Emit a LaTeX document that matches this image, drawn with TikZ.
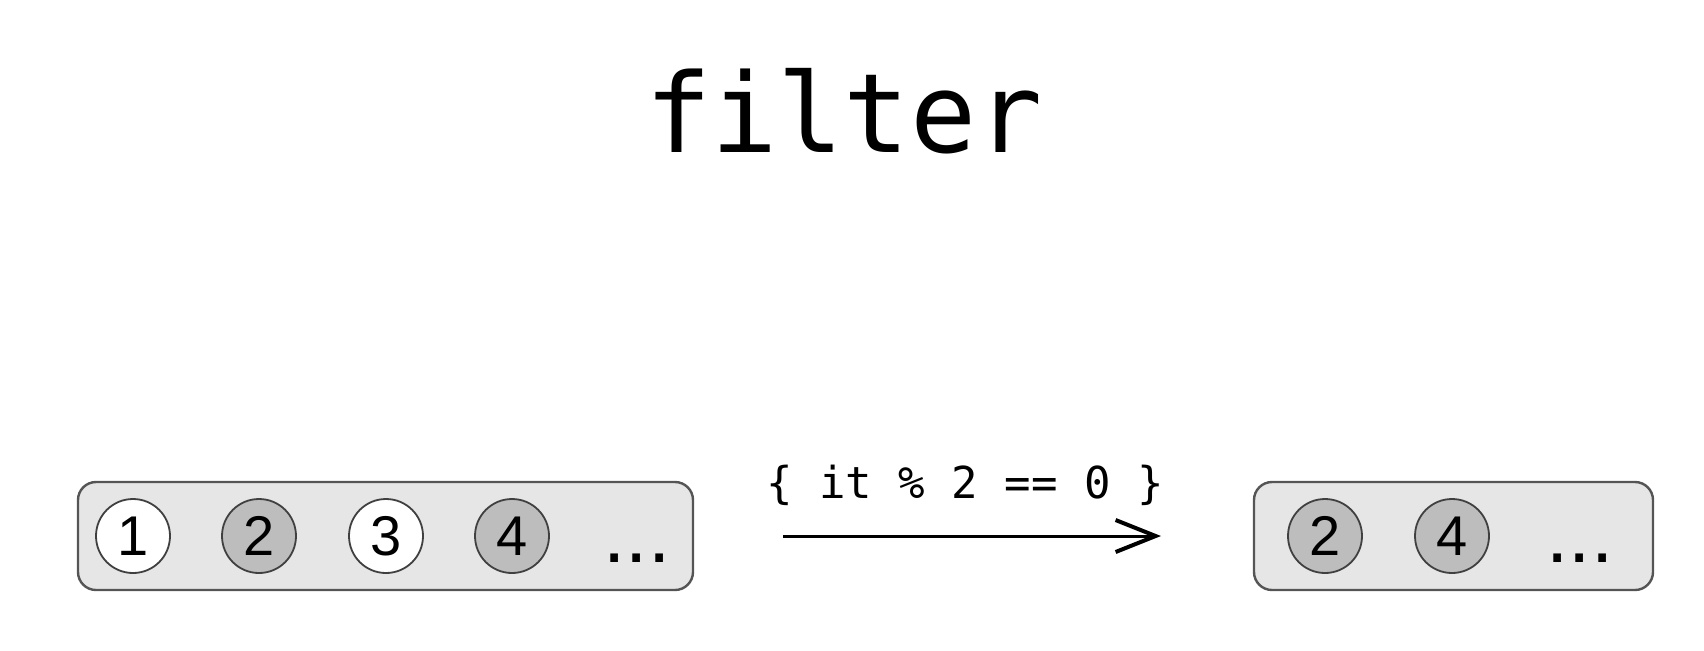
\documentclass[tikz,border=0pt]{standalone}
\usepackage{fontspec}
\setmainfont{Liberation Sans}
\newfontfamily\codefont{DejaVu Sans Mono}
\usetikzlibrary{arrows.meta}
\definecolor{boxfill}{HTML}{E6E6E6}
\definecolor{boxline}{HTML}{555555}
\definecolor{evenfill}{HTML}{BDBDBD}
\tikzset{
  listbox/.style={draw=boxline, fill=boxfill, line width=1.2pt, rounded corners=9pt},
  elem/.style={circle, draw=black!75, line width=0.9pt, minimum size=37pt, inner sep=0pt, font=\fontsize{28}{28}\selectfont},
  oddel/.style={elem, fill=white},
  evenel/.style={elem, fill=evenfill},
  dotsl/.style={anchor=base, inner sep=0pt, font=\fontsize{40}{40}\selectfont},
}
\begin{document}
\begin{tikzpicture}[x=0.5pt, y=-0.5pt]
\useasboundingbox (0,0) rectangle (1704,650);
\node[anchor=base, inner sep=0pt, font=\codefont\fontsize{55}{55}\selectfont] (title) at (844,152) {filter};
% left list
\node[listbox, minimum width=307.5pt, minimum height=54pt, inner sep=0pt] (lbox) at (385.5,536) {};
\node[oddel] (l1) at (133,536) {1};
\node[evenel] (l2) at (259,536) {2};
\node[oddel] (l3) at (386,536) {3};
\node[evenel] (l4) at (512,536) {4};
\node[dotsl] (ld) at (637,562) {...};
% arrow
\coordinate (as) at (783,536);
\coordinate (ae) at (1161,536);
\draw[line width=1.5pt, -{Straight Barb[length=20pt, width=16pt, line width=2pt]}] (as) -- (ae);
\node[anchor=base, inner sep=0pt, font=\codefont\fontsize{22}{22}\selectfont] (lab) at (965,498) {\{ it \% 2 == 0 \}};
% right list
\node[listbox, minimum width=199.5pt, minimum height=54pt, inner sep=0pt] (rbox) at (1453.5,536) {};
\node[evenel] (r2) at (1325,536) {2};
\node[evenel] (r4) at (1452,536) {4};
\node[dotsl] (rd) at (1580,562) {...};
\end{tikzpicture}
\end{document}
